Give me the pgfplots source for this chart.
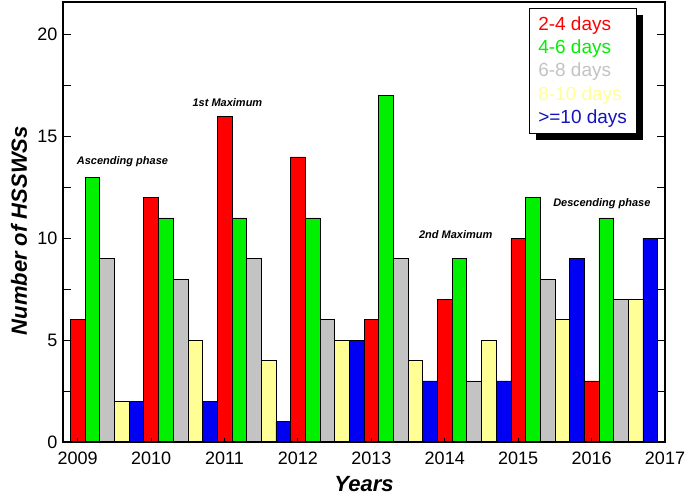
\documentclass[border=0pt]{standalone}
\usepackage{pgfplots}
\pgfplotsset{compat=1.18}
\usepackage{fontspec}
\setmainfont{Liberation Sans}
\usetikzlibrary{shadows}
\definecolor{cRed}{RGB}{255,0,0}
\definecolor{cGreen}{RGB}{0,240,0}
\definecolor{cGray}{RGB}{195,195,195}
\definecolor{cYellow}{RGB}{255,255,150}
\definecolor{cBlue}{RGB}{0,0,245}
\definecolor{cBlueT}{RGB}{20,20,190}
\begin{document}
\begin{tikzpicture}
\begin{axis}[
  scale only axis, width=602pt, height=440pt,
  xmin=2008.8, xmax=2017, ymin=0, ymax=21.6,
  axis on top,
  axis line style={line width=1.1pt},
  xtick={2009,2010,2011,2012,2013,2014,2015,2016,2017},
  xtick pos=bottom,
  ytick={0,5,10,15,20},
  minor ytick={2.5,7.5,12.5,17.5},
  ytick pos=both,
  tick align=inside,
  major tick length=8pt, minor tick length=8pt,
  tick style={line width=0.9pt, black},
  xtick style={/pgfplots/major tick length=4pt},
  tick label style={font=\fontsize{18}{18}\selectfont},
  xticklabel style={yshift=-6pt},
  yticklabel style={xshift=-2pt},
  /pgf/number format/assume math mode=true,
  /pgf/number format/1000 sep={},
  xlabel={\bfseries\itshape Years},
  xlabel style={font=\fontsize{22}{22}\selectfont, at={(axis description cs:0.5,0)}, anchor=north, yshift=-31pt},
  ylabel={\bfseries\itshape Number of HSSWSs},
  ylabel style={font=\fontsize{22}{22}\selectfont, at={(axis description cs:-0.073,0.48)}, anchor=center, rotate=0},
  legend style={at={(0.774,0.986)}, anchor=north west, draw=black, line width=0.6pt, fill=white,
    font=\fontsize{19}{19}\selectfont, inner xsep=7pt, inner ysep=6pt, row sep=4pt,
    drop shadow={shadow xshift=7pt, shadow yshift=-7pt, fill=black, opacity=1}},
  legend image code/.code={},
  legend cell align=left,
  every axis plot/.append style={ybar, bar width=0.2, draw=black, line width=0.6pt},
]
\addplot[fill=cRed, bar shift=0] coordinates {(2009,6) (2010,12) (2011,16) (2012,14) (2013,6) (2014,7) (2015,10) (2016,3)};
\addlegendentry{\textcolor{cRed}{2-4 days}}
\addplot[fill=cGreen, bar shift=0.2] coordinates {(2009,13) (2010,11) (2011,11) (2012,11) (2013,17) (2014,9) (2015,12) (2016,11)};
\addlegendentry{\textcolor{cGreen}{4-6 days}}
\addplot[fill=cGray, bar shift=0.4] coordinates {(2009,9) (2010,8) (2011,9) (2012,6) (2013,9) (2014,3) (2015,8) (2016,7)};
\addlegendentry{\textcolor{cGray}{6-8 days}}
\addplot[fill=cYellow, bar shift=0.6] coordinates {(2009,2) (2010,5) (2011,4) (2012,5) (2013,4) (2014,5) (2015,6) (2016,7)};
\addlegendentry{\textcolor{cYellow}{8-10 days}}
\addplot[fill=cBlue, bar shift=0.8] coordinates {(2009,2) (2010,2) (2011,1) (2012,5) (2013,3) (2014,3) (2015,9) (2016,10)};
\addlegendentry{\textcolor{cBlueT}{>=10 days}}
\node[font=\fontsize{11}{11}\selectfont\bfseries\itshape, anchor=base] at (axis cs:2009.61,13.63) {Ascending phase};
\node[font=\fontsize{11}{11}\selectfont\bfseries\itshape, anchor=base] at (axis cs:2011.04,16.47) {1st Maximum};
\node[font=\fontsize{11}{11}\selectfont\bfseries\itshape, anchor=base] at (axis cs:2014.15,10.0) {2nd Maximum};
\node[font=\fontsize{11}{11}\selectfont\bfseries\itshape, anchor=base] at (axis cs:2016.14,11.57) {Descending phase};
\end{axis}
\pgfresetboundingbox
\path[use as bounding box] (-63pt,-54pt) rectangle (622pt,442pt);
\end{tikzpicture}
\end{document}
